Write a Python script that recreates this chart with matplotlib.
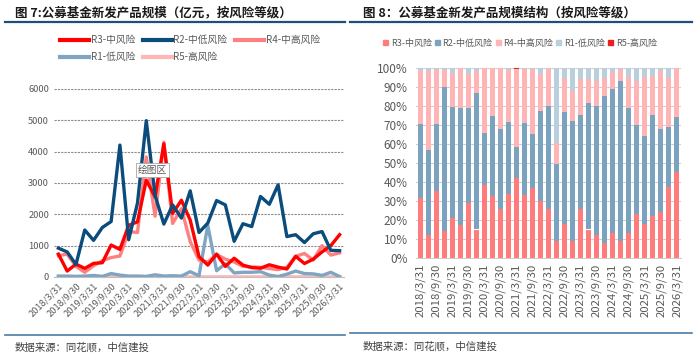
import matplotlib
matplotlib.use("Agg")
import matplotlib.pyplot as plt
from matplotlib.lines import Line2D
import numpy as np

plt.rcParams['font.family'] = ['Noto Sans CJK SC', 'DejaVu Sans']

dates = ["2018/3/31", "2018/6/30", "2018/9/30", "2018/12/31",
         "2019/3/31", "2019/6/30", "2019/9/30", "2019/12/31",
         "2020/3/31", "2020/6/30", "2020/9/30", "2020/12/31",
         "2021/3/31", "2021/6/30", "2021/9/30", "2021/12/31",
         "2022/3/31", "2022/6/30", "2022/9/30", "2022/12/31",
         "2023/3/31", "2023/6/30", "2023/9/30", "2023/12/31",
         "2024/3/31", "2024/6/30", "2024/9/30", "2024/12/31",
         "2025/3/31", "2025/6/30", "2025/9/30", "2025/12/31",
         "2026/3/31"]

# Left chart: issuance size (100m yuan)
r3 = [730, 190, 410, 275, 435, 455, 1020, 880, 1650, 1760, 3090, 2560, 4250, 2030, 2450, 1815,
      650, 380, 730, 340, 600, 380, 300, 280, 390, 315, 255, 660, 430, 570, 800, 1000, 1350]
r2 = [920, 800, 400, 1500, 1170, 1580, 1770, 4210, 1190, 2360, 4990, 2600, 1690, 2300, 1880, 2750,
      1420, 1720, 2440, 2300, 1140, 1700, 1610, 2570, 2320, 2940, 1290, 1350, 1100, 1380, 1450, 850, 840]
r4 = [680, 730, 340, 150, 360, 520, 620, 670, 1450, 1420, 3830, 1940, 4300, 1710, 2180, 1130,
      540, 480, 720, 570, 480, 340, 320, 310, 270, 235, 310, 660, 750, 540, 1000, 700, 770]
r1 = [30, 30, 20, 30, 50, 20, 110, 60, 30, 30, 20, 70, 30, 40, 30, 170,
      40, 1650, 200, 420, 130, 150, 150, 170, 60, 15, 90, 190, 110, 100, 50, 150, 15]
r5 = [10, 10, 8, 5, 5, 5, 10, 8, 5, 5, 5, 10, 12, 8, 5, 5,
      5, 5, 5, 5, 5, 5, 5, 5, 5, 8, 5, 5, 5, 5, 5, 5, 5]

# Right chart: structure shares (%)
s3 = [31.5, 12, 35.5, 14, 21, 17.5, 29, 15, 38.5, 32.5, 26, 33.5, 42, 33, 37, 30,
      26, 9, 18, 9, 26, 15, 12, 8, 13, 9, 13, 23, 18, 22, 24, 37.5, 45]
s2 = [39, 45, 35, 76, 58.5, 61.5, 50, 72, 27.5, 42, 42, 38, 16.5, 38, 28.5, 47.5,
      54, 40.5, 59, 63, 49.5, 66.5, 68, 77, 76, 84, 66, 47, 46, 53.5, 44, 31.5, 29]
s4 = [28.5, 41.5, 29, 9, 18, 21, 18, 11.5, 34, 25.5, 32, 27.5, 41, 28.5, 34, 19.5,
      20, 11, 17.5, 16, 18.5, 12.5, 13, 9.5, 9, 6.5, 16, 23, 31.5, 20.5, 30.5, 25.5, 26]
s1 = [1, 1.5, 0.3, 1, 2.5, 0, 3, 1.5, 0, 0, 0, 1, 0, 0.5, 0.5, 3,
      0, 39.5, 5.5, 12, 6, 6, 7, 5.5, 2, 0.3, 5, 7, 4.5, 4, 1.5, 5.5, 0]
s5 = [0, 0, 0.2, 0, 0, 0, 0, 0, 0, 0, 0, 0, 0.5, 0, 0, 0,
      0, 0, 0, 0, 0, 0, 0, 0, 0, 0.2, 0, 0, 0, 0, 0, 0, 0]

names = ["R3-中风险", "R2-中低风险", "R4-中高风险", "R1-低风险", "R5-高风险"]

W, H = 700, 358
fig = plt.figure(figsize=(W / 100, H / 100), dpi=100)

def fx(px):
    return px / W

def fy(py):
    return 1 - py / H

x = np.arange(len(dates))
tick_idx = x[::2]
tick_lab = dates[::2]
gray = "#595959"

# ---------------- Left chart ----------------
fig.text(fx(15), fy(12.5), "图 7:公募基金新发产品规模（亿元，按风险等级）",
         fontsize=9, fontweight='bold', color="#1a1a1a", va='center', ha='left')
fig.add_artist(Line2D([fx(5), fx(345)], [fy(22), fy(22)], color="#1F4E79", lw=1.6))

axL = fig.add_axes([fx(54), fy(277), fx(290), (277 - 89) / H])
cL = {"R3": "#FF0000", "R2": "#0B4C7C", "R4": "#FF8080", "R1": "#7FA5C2", "R5": "#FFB6B6"}
axL.plot(x, r5, color=cL["R5"], lw=2.4, label=names[4], zorder=3)
axL.plot(x, r1, color=cL["R1"], lw=2.4, label=names[3], zorder=3)
axL.plot(x, r4, color=cL["R4"], lw=2.4, label=names[2], zorder=4)
axL.plot(x, r3, color=cL["R3"], lw=2.4, label=names[0], zorder=5)
axL.plot(x, r2, color=cL["R2"], lw=2.4, label=names[1], zorder=6)
axL.set_xlim(-0.5, len(x) - 0.5)
axL.set_ylim(0, 6000)
axL.set_yticks(np.arange(0, 6001, 1000))
axL.yaxis.grid(True, color="#8c8c8c", lw=0.8, ls=(0, (2, 1)))
axL.set_axisbelow(True)
for s in ["top", "right", "left"]:
    axL.spines[s].set_visible(False)
axL.spines["bottom"].set_color("#bfbfbf")
axL.tick_params(axis='both', length=0, labelsize=6.7, colors=gray)
axL.set_xticks(tick_idx)
axL.set_xticklabels(tick_lab, rotation=45, ha='right', rotation_mode='anchor')
axL.tick_params(axis='x', pad=3)
axL.text(0.34, 0.57, "绘图区", transform=axL.transAxes, fontsize=7, color=gray,
         ha='center', va='center', zorder=10,
         bbox=dict(boxstyle='square,pad=0.2', fc='white', ec='#a6a6a6', lw=0.6))

hmap = {l.get_label(): l for l in axL.get_lines()}
order = [names[0], names[3], names[1], names[4], names[2]]
legL = fig.legend([Line2D([], [], color=hmap[n].get_color(), lw=3) for n in order], order,
                  loc='upper left', bbox_to_anchor=(fx(60), fy(35)), ncol=3, frameon=False,
                  fontsize=7, handlelength=3.0, handletextpad=0.15, columnspacing=0.8,
                  labelspacing=0.75, borderaxespad=0, borderpad=0)
for t in legL.get_texts():
    t.set_color(gray)

fig.add_artist(Line2D([fx(5), fx(345)], [fy(335), fy(335)], color="#4A7BA7", lw=1.2))
fig.text(fx(15), fy(348), "数据来源：同花顺，中信建投", fontsize=7.5, style='italic',
         color="#404040", va='center', ha='left')

# ---------------- Right chart ----------------
fig.text(fx(363), fy(12.5), "图 8：公募基金新发产品规模结构（按风险等级）",
         fontsize=9, fontweight='bold', color="#1a1a1a", va='center', ha='left')
fig.add_artist(Line2D([fx(350), fx(692)], [fy(22), fy(22)], color="#1F4E79", lw=1.6))

axR = fig.add_axes([fx(416), fy(258), fx(265), (258 - 68) / H])
cR = ["#FF7C7C", "#7BA3BF", "#FFB5B5", "#B9CFDE", "#E8201E"]
shares = [s3, s2, s4, s1, s5]
bottom = np.zeros(len(x))
for name, vals, col in zip(names, shares, cR):
    v = np.array(vals, dtype=float)
    axR.bar(x, v, bottom=bottom, width=0.62, color=col, label=name, zorder=3)
    bottom += v
axR.set_xlim(-0.5, len(x) - 0.5)
axR.set_ylim(0, 100)
axR.set_yticks(np.arange(0, 101, 10))
axR.set_yticklabels([f"{v}%" for v in range(0, 101, 10)])
axR.yaxis.grid(True, color="#d0d0d0", lw=0.8)
axR.set_axisbelow(True)
for s in ["top", "right", "left"]:
    axR.spines[s].set_visible(False)
axR.spines["bottom"].set_color("#d0d0d0")
axR.tick_params(axis='y', length=0, labelsize=8.5, colors=gray, pad=6)
axR.set_xticks(tick_idx)
axR.set_xticklabels(tick_lab, rotation=90, fontsize=8.2, color=gray)
axR.tick_params(axis='x', length=0, pad=4)

handlesR = [plt.Rectangle((0, 0), 1, 1, color=c) for c in cR]
legR = fig.legend(handlesR, names, loc='center left', bbox_to_anchor=(fx(383), fy(43)),
                  ncol=5, frameon=False, fontsize=6.5, handlelength=0.55, handleheight=0.55,
                  handletextpad=0.3, columnspacing=0.35, borderaxespad=0, borderpad=0)
for t in legR.get_texts():
    t.set_color(gray)

fig.add_artist(Line2D([fx(350), fx(692)], [fy(333), fy(333)], color="#4A7BA7", lw=1.2))
fig.text(fx(363), fy(347), "数据来源：同花顺，中信建投", fontsize=7.5, style='italic',
         color="#404040", va='center', ha='left')

fig.savefig("out.png", dpi=100)
